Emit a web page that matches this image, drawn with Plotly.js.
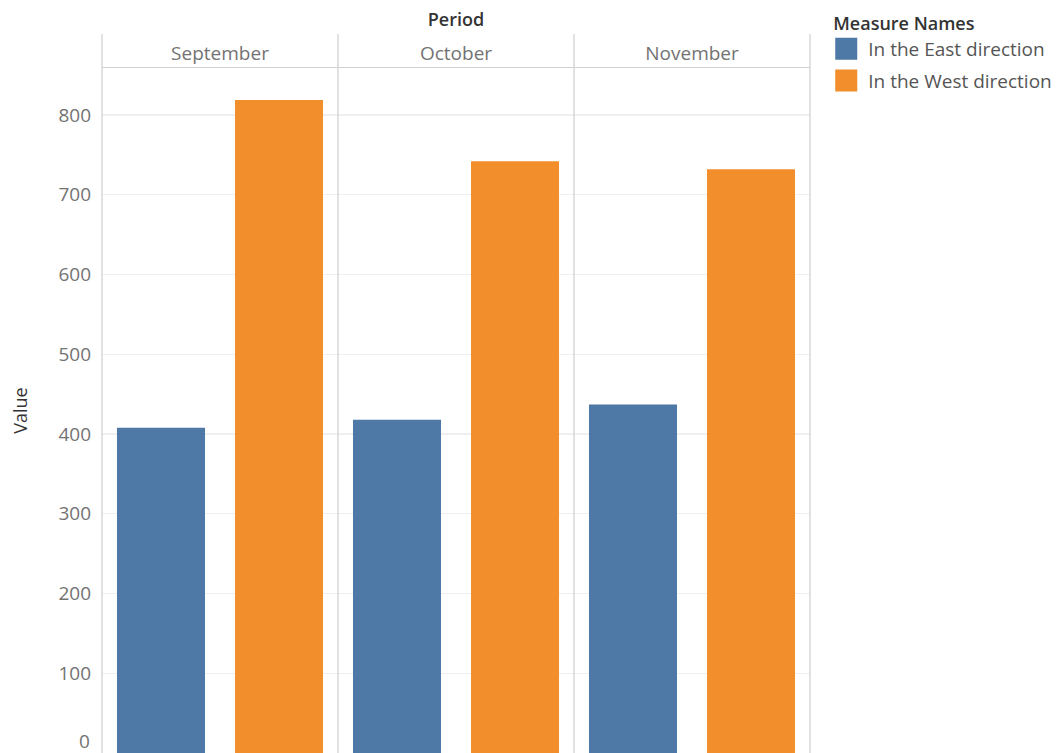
<!DOCTYPE html>
<html>
<head>
<meta charset="utf-8">
<script src="https://cdn.plot.ly/plotly-3.0.1.min.js"></script>
<style>
  html, body { margin: 0; padding: 0; background: #ffffff; }
  #chart { width: 1063px; height: 753px; }
</style>
</head>
<body>
<div id="chart"></div>
<script>
// ---- Data ----
const months = ["September", "October", "November"];
const seriesNames = ["In the East direction", "In the West direction"];
const eastValues = [408, 418, 437];
const westValues = [819, 742, 732];
const yTickVals = [0, 100, 200, 300, 400, 500, 600, 700, 800];
const colors = ["#4e79a7", "#f28e2b"];

const FONT = "Open Sans, Noto Sans, sans-serif";
const lineColor = "#d2d2d2";

const traces = [
  { type: "bar", name: seriesNames[0], x: months, y: eastValues, legendgroup: "east",
    marker: { color: colors[0] }, hoverinfo: "x+y+name" },
  { type: "bar", name: seriesNames[1], x: months, y: westValues, legendgroup: "west",
    marker: { color: colors[1] }, hoverinfo: "x+y+name" }
];

// panel border lines (left, dividers, right) extending into the header band
const headerTop = 1 + 34 / 685;
const shapes = [];
for (let i = 0; i <= months.length; i++) {
  shapes.push({
    type: "line", xref: "paper", yref: "paper",
    x0: i / months.length, x1: i / months.length, y0: 0, y1: headerTop,
    line: { color: lineColor, width: 1.3 }, layer: "above"
  });
}

const layout = {
  width: 1063, height: 753,
  margin: { l: 102, r: 253, t: 68, b: 0 },
  paper_bgcolor: "#ffffff", plot_bgcolor: "#ffffff",
  font: { family: FONT, color: "#666666" },
  barmode: "group", bargap: 0, bargroupgap: 0.254,
  title: {
    text: "Period", x: 0.5, xref: "paper", xanchor: "center",
    y: 1 - 20 / 753, yref: "container", yanchor: "middle",
    font: { family: FONT, size: 18, weight: 600, color: "#333333" }
  },
  xaxis: {
    side: "top", type: "category",
    showline: true, linecolor: lineColor, linewidth: 1.3,
    ticks: "", showgrid: false, zeroline: false,
    tickfont: { family: FONT, size: 19, color: "#737373" },
    ticklabelstandoff: -1,
    fixedrange: true
  },
  yaxis: {
    range: [0, 859],
    tickvals: yTickVals.slice(1),
    ticktext: yTickVals.slice(1).map(String),
    showgrid: true, gridcolor: "#efefef", gridwidth: 1.3,
    zeroline: false, showline: false, ticks: "",
    tickfont: { family: FONT, size: 19, color: "#737373" },
    ticklabelstandoff: 10,
    title: { text: "Value", standoff: 26,
      font: { family: FONT, size: 18, color: "#333333" } },
    fixedrange: true
  },
  showlegend: true,
  legend: {
    x: 1.03, xanchor: "left", y: 1.0898, yanchor: "top",
    title: { text: "Measure Names", font: { family: FONT, size: 18, weight: 600, color: "#333333" } },
    font: { family: FONT, size: 19, color: "#555555" },
    tracegroupgap: 4, itemclick: false, itemdoubleclick: false,
    bgcolor: "rgba(0,0,0,0)"
  },
  shapes: shapes,
  annotations: [{
    text: String(yTickVals[0]), xref: "paper", x: 0, xanchor: "right", xshift: -10,
    yref: "y", y: yTickVals[0], yanchor: "bottom", yshift: -3, showarrow: false,
    font: { family: FONT, size: 19, color: "#737373" }
  }]
};

Plotly.newPlot("chart", traces, layout, { displayModeBar: false, staticPlot: true }).then(function (gd) {
  // enlarge legend swatches to match the reference's square keys
  gd.querySelectorAll(".legend .legendpoints path").forEach(function (p) {
    p.setAttribute("d", "M6,11H-16V-11H6Z");
  });
  gd.querySelectorAll(".legend .legendtext").forEach(function (t) {
    t.setAttribute("x", 37);
  });
});
</script>
</body>
</html>
